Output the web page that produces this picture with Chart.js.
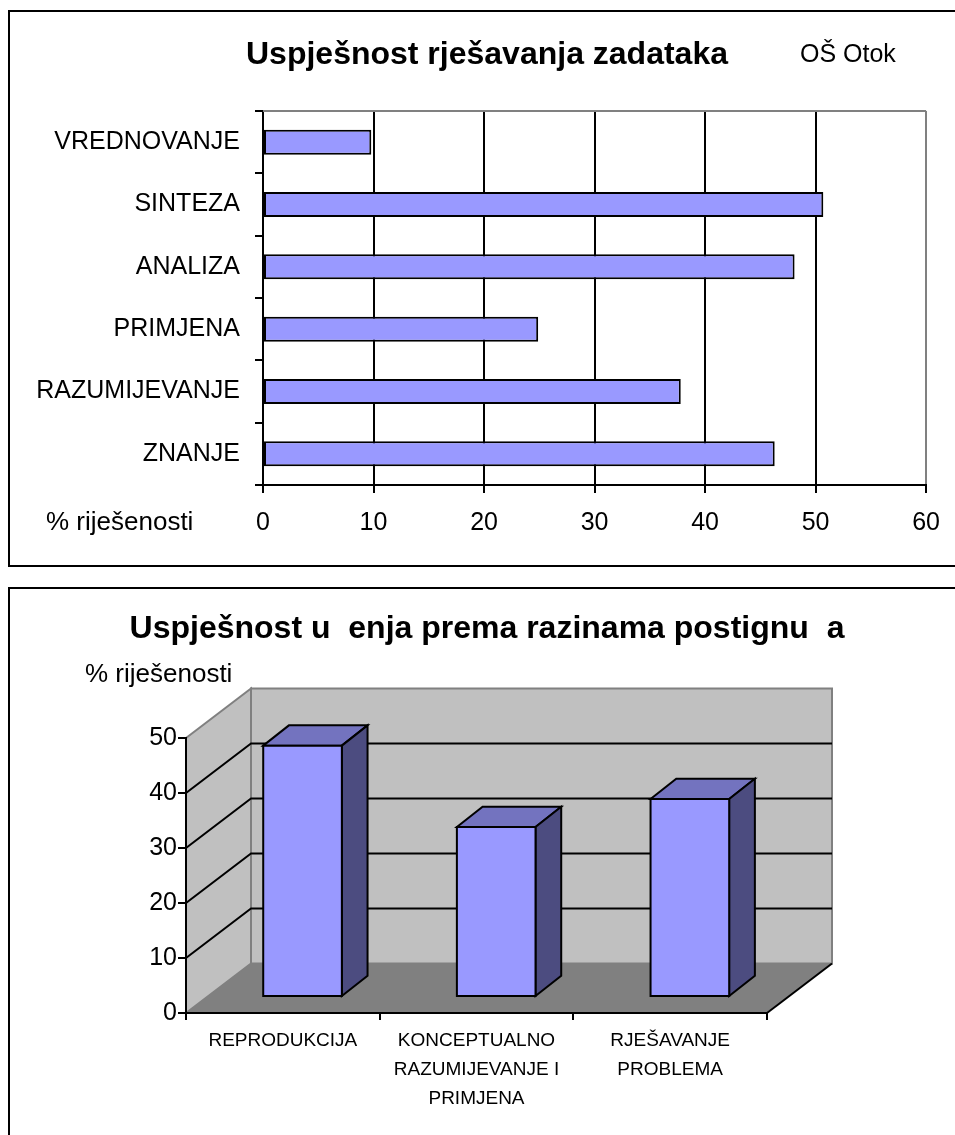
<!DOCTYPE html>
<html lang="hr">
<head>
<meta charset="UTF-8">
<title>Uspješnost rješavanja zadataka</title>
<script src="https://cdn.jsdelivr.net/npm/chart.js"></script>
<style>
    body {
        margin: 0;
        background: #fff;
        overflow: hidden;
        width: 955px;
        height: 1135px;
        position: relative;
        font-family: "Liberation Sans", Arial, sans-serif;
    }
    .frame {
        position: absolute;
        box-sizing: border-box;
        border: 2.5px solid #000;
        left: 8px;
        width: 1000px;
    }
    #frameTop { top: 10px; height: 557px; }
    #frameBottom { top: 587px; height: 1000px; }
    canvas { position: absolute; left: 0; }
    #topChart { top: 0; }
    #bottomChart { top: 580px; }
</style>
</head>
<body>
<div class="frame" id="frameTop"></div>
<div class="frame" id="frameBottom"></div>
<canvas id="topChart" width="955" height="580"></canvas>
<canvas id="bottomChart" width="955" height="555"></canvas>

<script>
    // podaci - gornji graf (razine znanja)
    const topCategories = ['VREDNOVANJE', 'SINTEZA', 'ANALIZA', 'PRIMJENA', 'RAZUMIJEVANJE', 'ZNANJE'];
    const topValues = [9.8, 50.7, 48.1, 24.9, 37.8, 46.3];
    const topTickValues = [0, 10, 20, 30, 40, 50, 60];

    // podaci - donji graf (razine postignuća)
    const bottomCategories = [
        ['REPRODUKCIJA'],
        ['KONCEPTUALNO', 'RAZUMIJEVANJE I', 'PRIMJENA'],
        ['RJEŠAVANJE', 'PROBLEMA']
    ];
    const bottomValues = [45.7, 30.9, 36.0];
    const bottomTickValues = [0, 10, 20, 30, 40, 50];

    const FONT = '"Liberation Sans", Arial, sans-serif';
    Chart.defaults.font.family = FONT;
    Chart.defaults.color = '#000';

    // naslovi i natpisi gornjeg grafa
    const topText = {
        id: 'topText',
        afterDraw(chart) {
            const ctx = chart.ctx;
            const area = chart.chartArea;
            ctx.save();
            // sivi gornji rub područja crtanja
            ctx.strokeStyle = '#808080';
            ctx.lineWidth = 2;
            ctx.beginPath();
            ctx.moveTo(area.left, area.top);
            ctx.lineTo(area.right, area.top);
            ctx.stroke();

            ctx.fillStyle = '#000';
            ctx.textBaseline = 'middle';
            ctx.textAlign = 'center';
            ctx.font = 'bold 32px ' + FONT;
            ctx.fillText('Uspješnost rješavanja zadataka', 487, 55);
            ctx.textAlign = 'left';
            ctx.font = '25px ' + FONT;
            ctx.fillText('OŠ Otok', 800, 55);
            ctx.font = '26px ' + FONT;
            ctx.fillText('% riješenosti', 46, 523);
            ctx.restore();
        }
    };

    new Chart(document.getElementById('topChart'), {
        type: 'bar',
        data: {
            labels: topCategories,
            datasets: [{
                data: topValues,
                backgroundColor: '#9999FF',
                borderColor: '#000',
                borderWidth: 2,
                borderSkipped: false,
                barPercentage: 0.4,
                categoryPercentage: 1
            }]
        },
        options: {
            indexAxis: 'y',
            responsive: false,
            animation: false,
            layout: { padding: { left: 10, right: 26, top: 111, bottom: 35 } },
            plugins: { legend: { display: false }, tooltip: { enabled: false } },
            scales: {
                x: {
                    min: topTickValues[0],
                    max: topTickValues[topTickValues.length - 1],
                    afterBuildTicks(scale) {
                        scale.ticks = topTickValues.map(v => ({ value: v }));
                    },
                    ticks: { font: { size: 25 }, padding: 15, color: '#000' },
                    grid: {
                        color: c => (c.tick && c.tick.value === 60) ? '#808080' : '#000',
                        tickColor: '#000',
                        lineWidth: 2,
                        tickLength: 8
                    },
                    border: { color: '#000', width: 2 },
                    afterFit(scale) { scale.height = 60; }
                },
                y: {
                    ticks: { font: { size: 25 }, padding: 15, color: '#000' },
                    grid: { drawOnChartArea: false, color: '#000', lineWidth: 2, tickLength: 8 },
                    border: { color: '#000', width: 2 },
                    afterFit(scale) { scale.width = 253; }
                }
            }
        },
        plugins: [topText]
    });

    // 3D izgled donjeg grafa
    const WALL_DX = 65, WALL_DY = -49.5;   // dubina zidova
    const BAR_SX = 19.7, BAR_SY = -16;     // pomak prednje plohe stupca
    const BAR_DX = 25.7, BAR_DY = -20.3;   // dubina stupca

    const bottom3d = {
        id: 'bottom3d',
        beforeDraw(chart) {
            const ctx = chart.ctx;
            const ys = chart.scales.y;
            const left = chart.chartArea.left, right = chart.chartArea.right;
            const y0 = ys.getPixelForValue(ys.min);
            const yTop = ys.getPixelForValue(ys.max);
            ctx.save();
            ctx.lineJoin = 'miter';

            // bočni zid
            ctx.fillStyle = '#C0C0C0';
            ctx.strokeStyle = '#808080';
            ctx.lineWidth = 2;
            ctx.beginPath();
            ctx.moveTo(left, yTop);
            ctx.lineTo(left + WALL_DX, yTop + WALL_DY);
            ctx.lineTo(left + WALL_DX, y0 + WALL_DY);
            ctx.lineTo(left, y0);
            ctx.closePath();
            ctx.fill();
            ctx.stroke();

            // stražnji zid
            ctx.beginPath();
            ctx.rect(left + WALL_DX, yTop + WALL_DY, right - left, y0 - yTop);
            ctx.fill();
            ctx.stroke();

            // pod
            ctx.fillStyle = '#808080';
            ctx.beginPath();
            ctx.moveTo(left, y0);
            ctx.lineTo(right, y0);
            ctx.lineTo(right + WALL_DX, y0 + WALL_DY);
            ctx.lineTo(left + WALL_DX, y0 + WALL_DY);
            ctx.closePath();
            ctx.fill();
            ctx.strokeStyle = '#000';
            ctx.beginPath();
            ctx.moveTo(right, y0);
            ctx.lineTo(right + WALL_DX, y0 + WALL_DY);
            ctx.stroke();

            // mreža na zidovima
            ctx.strokeStyle = '#000';
            ctx.lineWidth = 2;
            ys.ticks.forEach(t => {
                if (t.value <= ys.min || t.value >= ys.max) return;
                const py = ys.getPixelForValue(t.value);
                ctx.beginPath();
                ctx.moveTo(left, py);
                ctx.lineTo(left + WALL_DX, py + WALL_DY);
                ctx.lineTo(right + WALL_DX, py + WALL_DY);
                ctx.stroke();
            });
            ctx.restore();
        },
        afterDatasetsDraw(chart) {
            const ctx = chart.ctx;
            const meta = chart.getDatasetMeta(0);
            ctx.save();
            ctx.strokeStyle = '#000';
            ctx.lineWidth = 2;
            ctx.lineJoin = 'miter';
            meta.data.forEach(bar => {
                const p = bar.getProps(['x', 'y', 'base', 'width'], true);
                const l = p.x - p.width / 2 + BAR_SX;
                const r = p.x + p.width / 2 + BAR_SX;
                const t = p.y + BAR_SY;
                const b = p.base + BAR_SY;
                // gornja ploha
                ctx.fillStyle = '#7373BF';
                ctx.beginPath();
                ctx.moveTo(l, t);
                ctx.lineTo(l + BAR_DX, t + BAR_DY);
                ctx.lineTo(r + BAR_DX, t + BAR_DY);
                ctx.lineTo(r, t);
                ctx.closePath();
                ctx.fill();
                ctx.stroke();
                // bočna ploha
                ctx.fillStyle = '#4C4C80';
                ctx.beginPath();
                ctx.moveTo(r, t);
                ctx.lineTo(r + BAR_DX, t + BAR_DY);
                ctx.lineTo(r + BAR_DX, b + BAR_DY);
                ctx.lineTo(r, b);
                ctx.closePath();
                ctx.fill();
                ctx.stroke();
                // prednja ploha
                ctx.fillStyle = '#9999FF';
                ctx.beginPath();
                ctx.rect(l, t, r - l, b - t);
                ctx.fill();
                ctx.stroke();
            });

            ctx.fillStyle = '#000';
            ctx.textBaseline = 'middle';
            ctx.textAlign = 'center';
            ctx.font = 'bold 32px ' + FONT;
            ctx.fillText('Uspješnost u  enja prema razinama postignu  a', 487, 49.5);
            ctx.textAlign = 'left';
            ctx.font = '26px ' + FONT;
            ctx.fillText('% riješenosti', 85, 94.5);
            ctx.restore();
        }
    };

    new Chart(document.getElementById('bottomChart'), {
        type: 'bar',
        data: {
            labels: bottomCategories,
            datasets: [{
                data: bottomValues,
                backgroundColor: 'rgba(0,0,0,0)',
                borderWidth: 0,
                barPercentage: 0.406,
                categoryPercentage: 1
            }]
        },
        options: {
            responsive: false,
            animation: false,
            layout: { padding: { left: 10, right: 188, top: 158, bottom: 22 } },
            plugins: { legend: { display: false }, tooltip: { enabled: false } },
            scales: {
                x: {
                    ticks: { font: { size: 19, lineHeight: 1.53 }, padding: 6, maxRotation: 0, autoSkip: false, color: '#000' },
                    grid: { drawOnChartArea: false, color: '#000', lineWidth: 2, tickLength: 7 },
                    border: { color: '#000', width: 2 },
                    afterFit(scale) { scale.height = 100; }
                },
                y: {
                    min: bottomTickValues[0],
                    max: bottomTickValues[bottomTickValues.length - 1],
                    afterBuildTicks(scale) {
                        scale.ticks = bottomTickValues.map(v => ({ value: v }));
                    },
                    ticks: { font: { size: 25 }, padding: 1, color: '#000' },
                    grid: { drawOnChartArea: false, color: '#000', lineWidth: 2, tickLength: 8 },
                    border: { color: '#000', width: 2 },
                    afterFit(scale) { scale.width = 176; }
                }
            }
        },
        plugins: [bottom3d]
    });
</script>
</body>
</html>
